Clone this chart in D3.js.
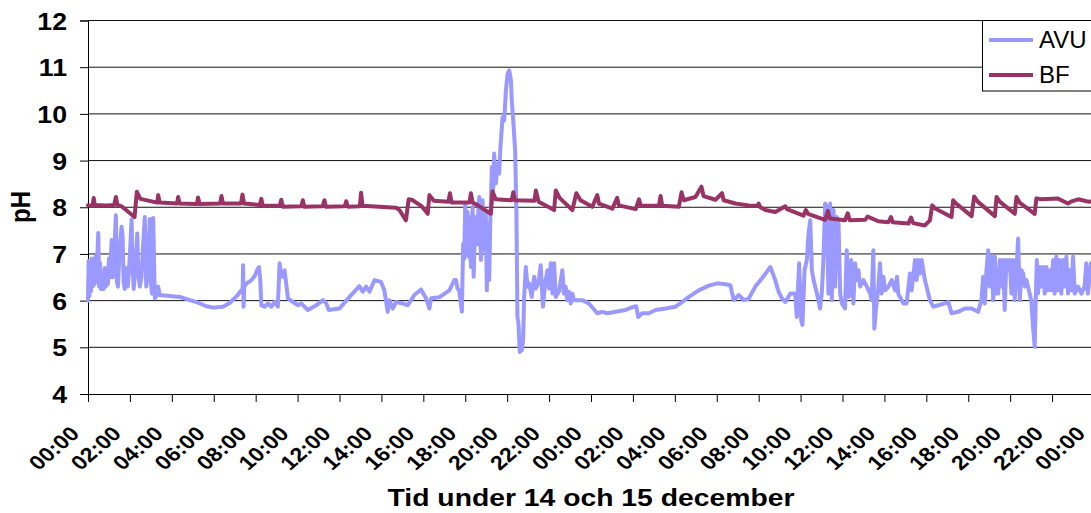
<!DOCTYPE html>
<html>
<head>
<meta charset="utf-8">
<script src="https://cdn.jsdelivr.net/npm/d3@7/dist/d3.min.js"></script>
<style>
  html, body { margin: 0; padding: 0; background: #fff; }
  svg { display: block; }
  text { font-family: "Liberation Sans", Arial, sans-serif; fill: #000; }
</style>
</head>
<body>
<svg id="chart" width="1091" height="513"></svg>
<script>
// Hours since 00:00 on 14 December, and measured pH
const avuHour = [
  0.00, 0.03, 0.07, 0.10, 0.14, 0.18, 0.22, 0.27, 0.31, 0.36, 0.40, 0.45, 0.49, 0.53, 0.58, 0.62, 0.68, 0.75, 0.80, 0.85,
  0.90, 0.95, 1.00, 1.05, 1.13, 1.18, 1.25, 1.33, 1.38, 1.43, 1.50, 1.60, 1.65, 1.70, 1.75, 1.82, 1.90, 1.95, 2.00, 2.08,
  2.12, 2.18, 2.25, 2.35, 2.40, 2.47, 2.55, 2.62, 2.71, 2.78, 2.85, 2.95, 3.00, 3.05, 3.11, 3.19, 3.27, 3.35, 3.42, 4.38,
  4.86, 5.17, 5.65, 5.97, 6.44, 6.76, 7.08, 7.32, 7.38, 7.40, 7.42, 7.46, 7.56, 7.75, 7.95, 8.10, 8.16, 8.22, 8.27, 8.43,
  8.59, 8.75, 8.90, 9.06, 9.14, 9.22, 9.30, 9.38, 9.54, 9.78, 10.02, 10.17, 10.49, 10.89, 11.21, 11.37, 11.49, 12.00, 12.48, 12.95,
  13.11, 13.27, 13.43, 13.67, 13.98, 14.14, 14.30, 14.38, 14.54, 14.70, 15.02, 15.25, 15.57, 15.89, 16.13, 16.29, 16.37, 16.76, 17.24, 17.48,
  17.56, 17.63, 17.71, 17.84, 17.90, 17.95, 18.00, 18.05, 18.11, 18.15, 18.19, 18.27, 18.35, 18.40, 18.45, 18.51, 18.55, 18.59, 18.67, 18.75,
  18.80, 18.83, 18.90, 18.94, 18.98, 19.03, 19.08, 19.11, 19.14, 19.20, 19.27, 19.33, 19.38, 19.46, 19.54, 19.62, 19.67, 19.78, 19.86, 19.94,
  20.02, 20.10, 20.18, 20.22, 20.29, 20.38, 20.44, 20.49, 20.54, 20.60, 20.70, 20.76, 20.81, 20.89, 20.97, 21.05, 21.17, 21.29, 21.37, 21.49,
  21.60, 21.71, 21.81, 21.92, 22.00, 22.08, 22.16, 22.24, 22.32, 22.48, 22.63, 22.71, 22.79, 22.87, 22.95, 23.03, 23.11, 23.19, 23.59, 23.90,
  24.30, 24.54, 24.78, 25.17, 25.65, 26.05, 26.16, 26.25, 26.44, 26.76, 27.08, 27.56, 28.03, 28.35, 28.67, 29.14, 29.62, 30.02, 30.41, 30.65,
  30.81, 31.05, 31.29, 31.52, 31.84, 32.16, 32.56, 32.79, 32.95, 33.11, 33.27, 33.51, 33.74, 33.82, 33.93, 34.03, 34.09, 34.19, 34.30, 34.38,
  34.46, 34.54, 34.62, 34.78, 34.85, 34.93, 35.01, 35.09, 35.17, 35.25, 35.33, 35.41, 35.49, 35.57, 35.65, 35.73, 35.81, 35.89, 35.97, 36.12,
  36.20, 36.30, 36.41, 36.52, 36.60, 36.68, 36.76, 36.84, 37.00, 37.16, 37.32, 37.39, 37.47, 37.52, 37.58, 37.71, 37.79, 37.87, 37.95, 38.03,
  38.19, 38.35, 38.51, 38.60, 38.66, 38.90, 39.06, 39.22, 39.30, 39.46, 39.54, 39.62, 39.70, 39.78, 39.93, 40.01, 40.17, 40.33, 40.57, 40.89,
  41.05, 41.20, 41.52, 41.84, 42.16, 42.47, 42.63, 42.71, 42.79, 42.87, 42.95, 43.03, 43.11, 43.19, 43.27, 43.35, 43.43, 43.51, 43.58, 43.66,
  43.74, 43.82, 43.90, 43.98, 44.06, 44.14, 44.22, 44.30, 44.38, 44.46, 44.54, 44.62, 44.70, 44.78, 44.93, 45.01, 45.09, 45.17, 45.22, 45.27,
  45.33, 45.41, 45.49, 45.57, 45.65, 45.73, 45.81, 45.89, 45.97, 46.05, 46.12, 46.20, 46.28, 46.36, 46.44, 46.52, 46.60, 46.68, 46.76, 46.84,
  46.92, 47.00, 47.08, 47.24, 47.40, 47.55, 47.63, 47.71, 47.85, 48.00
];
const avuPH = [
  6.00, 6.85, 6.10, 6.80, 6.20, 6.90, 6.30, 6.75, 6.35, 6.95, 6.40, 7.00, 7.45, 6.30, 6.80, 6.25, 6.50, 6.25, 6.70, 6.30,
  6.60, 6.35, 6.90, 6.50, 7.30, 6.50, 7.00, 7.83, 6.40, 6.30, 7.00, 7.58, 7.40, 6.40, 6.25, 6.70, 6.30, 6.60, 7.00, 7.74,
  6.80, 6.25, 6.60, 7.44, 6.60, 6.30, 6.50, 7.10, 7.79, 6.30, 6.60, 7.75, 6.40, 6.15, 7.77, 6.05, 6.10, 6.30, 6.12, 6.08,
  6.01, 5.97, 5.88, 5.85, 5.87, 5.95, 6.09, 6.22, 6.25, 6.76, 5.87, 6.30, 6.37, 6.42, 6.52, 6.68, 6.72, 6.45, 5.90, 5.87,
  5.94, 5.87, 5.97, 5.87, 6.80, 6.55, 6.51, 6.65, 6.05, 5.97, 5.90, 5.94, 5.80, 5.90, 6.01, 5.94, 5.80, 5.83, 6.08, 6.31,
  6.19, 6.30, 6.19, 6.44, 6.40, 6.22, 5.76, 6.01, 5.83, 5.97, 5.94, 5.90, 6.12, 6.24, 6.05, 5.83, 6.05, 6.07, 6.22, 6.44,
  6.44, 6.26, 6.22, 5.76, 7.22, 6.90, 8.08, 7.00, 7.90, 6.94, 7.79, 6.72, 8.01, 6.51, 7.30, 7.79, 7.20, 7.65, 8.22, 6.87,
  7.50, 8.15, 7.08, 7.80, 7.86, 6.22, 7.20, 7.65, 6.44, 7.79, 8.86, 8.36, 9.15, 8.51, 8.93, 8.72, 9.22, 9.93, 9.86, 10.50,
  10.86, 10.93, 10.72, 10.29, 9.86, 9.22, 7.94, 5.65, 5.51, 4.90, 4.94, 5.15, 6.08, 6.72, 6.30, 6.37, 6.08, 6.51, 6.26, 6.37,
  6.76, 5.87, 6.37, 6.65, 6.26, 6.80, 6.15, 6.80, 6.08, 6.20, 6.65, 6.15, 6.30, 6.01, 6.19, 5.94, 6.15, 6.01, 6.01, 5.94,
  5.73, 5.76, 5.73, 5.76, 5.80, 5.87, 5.88, 5.65, 5.73, 5.73, 5.80, 5.83, 5.87, 5.97, 6.08, 6.22, 6.32, 6.37, 6.35, 6.33,
  6.01, 6.12, 6.01, 6.04, 6.30, 6.48, 6.72, 6.44, 6.19, 6.05, 5.97, 6.15, 6.15, 5.65, 6.80, 5.58, 5.48, 6.65, 6.87, 7.44,
  7.72, 6.65, 6.44, 6.15, 6.01, 5.83, 6.15, 6.87, 8.08, 8.00, 6.15, 8.08, 6.01, 7.94, 6.30, 7.79, 7.65, 6.15, 5.94, 5.83,
  7.08, 6.08, 6.87, 5.94, 6.80, 6.44, 6.65, 6.30, 6.44, 6.30, 6.15, 6.01, 7.08, 5.40, 5.73, 6.30, 6.80, 6.15, 6.51, 6.22,
  6.30, 6.44, 6.22, 6.51, 6.15, 5.94, 5.94, 6.58, 6.22, 6.87, 6.44, 6.87, 6.58, 6.87, 6.44, 6.30, 6.01, 5.87, 5.90, 5.94,
  5.97, 5.73, 5.76, 5.83, 5.83, 5.76, 6.01, 6.51, 5.94, 6.65, 7.08, 6.30, 6.94, 6.01, 6.94, 6.15, 6.15, 6.87, 6.30, 6.87,
  5.80, 6.87, 6.65, 6.87, 6.15, 6.87, 6.01, 6.65, 7.33, 6.01, 6.65, 6.58, 6.30, 6.44, 6.15, 6.01, 5.44, 5.01, 6.01, 6.87,
  6.15, 6.72, 6.30, 6.72, 6.15, 6.72, 6.22, 6.65, 6.22, 6.87, 6.15, 6.94, 6.22, 6.87, 6.15, 6.87, 6.30, 6.94, 6.15, 6.65,
  6.22, 6.94, 6.15, 6.30, 6.15, 6.30, 6.80, 6.15, 6.80, 6.20
];

const bfHour = [
  0.00, 0.22, 0.27, 0.32, 0.90, 1.25, 1.33, 1.40, 1.60, 2.22, 2.33, 2.50, 3.30, 3.35, 3.42, 4.25, 4.30, 4.37, 5.20, 5.25,
  5.32, 6.30, 6.37, 6.44, 7.30, 7.37, 7.45, 8.20, 8.27, 8.34, 9.15, 9.22, 9.30, 10.18, 10.25, 10.32, 11.20, 11.28, 11.35, 12.25,
  12.32, 12.40, 12.97, 13.03, 13.10, 14.70, 14.86, 15.17, 15.30, 15.45, 15.90, 16.21, 16.29, 16.50, 17.20, 17.27, 17.35, 18.20, 18.27, 18.35,
  18.60, 19.22, 19.30, 19.45, 20.22, 20.29, 20.38, 21.30, 21.37, 21.50, 22.00, 22.24, 22.32, 22.50, 23.11, 23.30, 23.50, 24.06, 24.30, 24.38,
  25.02, 25.25, 25.33, 26.13, 26.29, 26.37, 27.24, 27.32, 27.40, 28.19, 28.32, 28.43, 28.98, 29.27, 29.37, 29.94, 30.25, 30.33, 30.89, 31.52,
  31.95, 32.00, 32.08, 32.32, 32.79, 33.27, 33.35, 34.14, 34.25, 34.35, 35.17, 35.30, 35.40, 36.12, 36.25, 36.35, 37.08, 37.20, 37.71, 38.19,
  38.31, 38.40, 39.14, 39.27, 39.37, 39.93, 40.17, 40.28, 40.40, 41.20, 41.28, 41.42, 42.16, 42.28, 42.45, 43.27, 43.35, 43.50, 44.22, 44.30,
  44.45, 45.17, 45.25, 45.50, 46.28, 46.44, 46.76, 46.90, 47.24, 47.55, 47.71, 48.00
];
const bfPH = [
  8.04, 8.03, 8.20, 8.05, 8.04, 8.05, 8.22, 8.05, 8.02, 7.79, 8.33, 8.18, 8.10, 8.26, 8.10, 8.08, 8.22, 8.08, 8.07, 8.21,
  8.07, 8.08, 8.24, 8.08, 8.08, 8.27, 8.08, 8.05, 8.18, 8.03, 8.03, 8.16, 8.01, 8.02, 8.15, 8.01, 8.02, 8.15, 8.01, 8.02,
  8.13, 8.01, 8.02, 8.31, 8.03, 7.99, 7.94, 7.72, 8.17, 8.16, 8.03, 7.86, 8.26, 8.14, 8.12, 8.30, 8.10, 8.10, 8.30, 8.10,
  8.04, 7.86, 8.34, 8.17, 8.15, 8.32, 8.15, 8.14, 8.36, 8.12, 8.00, 7.94, 8.36, 8.20, 7.94, 8.30, 8.15, 8.01, 8.26, 8.08,
  7.97, 8.20, 8.04, 7.96, 8.17, 8.04, 8.03, 8.24, 8.03, 8.01, 8.32, 8.15, 8.22, 8.44, 8.24, 8.16, 8.30, 8.15, 8.08, 8.04,
  8.03, 8.08, 8.00, 7.94, 7.90, 8.02, 7.96, 7.82, 7.94, 7.86, 7.73, 7.92, 7.76, 7.72, 7.87, 7.72, 7.73, 7.80, 7.70, 7.68,
  7.79, 7.68, 7.65, 7.78, 7.66, 7.61, 7.72, 8.04, 7.98, 7.79, 8.15, 8.08, 7.81, 8.23, 8.12, 7.81, 8.22, 8.12, 7.86, 8.22,
  8.10, 7.86, 8.19, 8.17, 8.19, 8.15, 8.08, 8.12, 8.17, 8.14, 8.12, 8.13
];

const yTicks = [4, 5, 6, 7, 8, 9, 10, 11, 12];
const xTickHours = d3.range(0, 49, 2);
const xTickLabels = [
  "00:00", "02:00", "04:00", "06:00", "08:00", "10:00", "12:00", "14:00", "16:00", "18:00", "20:00", "22:00",
  "00:00", "02:00", "04:00", "06:00", "08:00", "10:00", "12:00", "14:00", "16:00", "18:00", "20:00", "22:00", "00:00"
];
const seriesNames = ["AVU", "BF"];
const seriesColors = ["#9999ff", "#993366"];

const svg = d3.select("#chart");
const plotLeft = 88, plotRight = 1094, plotTop = 20.5, plotBottom = 394;
const stretchX = 1.16; // horizontal text stretch

const x = d3.scaleLinear().domain([0, 48]).range([plotLeft, plotRight]);
const y = d3.scaleLinear().domain([4, 12]).range([plotBottom, plotTop]);

// horizontal gridlines
svg.append("g").selectAll("line").data(yTicks.filter(v => v > 4)).join("line")
  .attr("x1", plotLeft).attr("x2", plotRight)
  .attr("y1", d => y(d)).attr("y2", d => y(d))
  .attr("stroke", "#111").attr("stroke-width", 1);

// y axis
const yAxis = svg.append("g").attr("transform", `translate(${plotLeft},0)`)
  .call(d3.axisLeft(y).tickValues(yTicks).tickSize(8).tickFormat(d3.format("d")));
yAxis.select(".domain").attr("stroke", "#000");
yAxis.selectAll(".tick line").attr("stroke", "#000");
yAxis.selectAll(".tick text")
  .attr("x", null).attr("dy", null)
  .attr("text-anchor", "end")
  .style("font-family", "'Liberation Sans', Arial, sans-serif")
  .style("font-size", "23px").style("font-weight", "bold")
  .attr("transform", `translate(-21,8.5) scale(${stretchX},1)`);

// x axis
const xAxis = svg.append("g").attr("transform", `translate(0,${plotBottom})`)
  .call(d3.axisBottom(x).tickValues(xTickHours).tickSize(8).tickFormat((d, i) => xTickLabels[i]));
xAxis.select(".domain").attr("stroke", "#000");
xAxis.selectAll(".tick line").attr("stroke", "#000");
xAxis.selectAll(".tick text")
  .attr("y", null).attr("dy", null)
  .attr("text-anchor", "end")
  .style("font-family", "'Liberation Sans', Arial, sans-serif")
  .style("font-size", "20px").style("font-weight", "bold")
  .attr("transform", `translate(-8,41) scale(${stretchX},1) rotate(-45)`);

// series lines
const line = d3.line().x(d => x(d[0])).y(d => y(d[1]));
const avu = d3.zip(avuHour, avuPH);
const bf = d3.zip(bfHour, bfPH);
[avu, bf].forEach((data, i) => {
  svg.append("path").datum(data)
    .attr("d", line)
    .attr("fill", "none")
    .attr("stroke", seriesColors[i])
    .attr("stroke-width", 4)
    .attr("stroke-linejoin", "round")
    .attr("stroke-linecap", "round");
});

// axis titles
svg.append("text")
  .attr("transform", `translate(${(plotLeft + plotRight) / 2},506) scale(1.18,1)`)
  .attr("text-anchor", "middle")
  .style("font-size", "24px").style("font-weight", "bold")
  .text("Tid under 14 och 15 december");

svg.append("text")
  .attr("transform", `translate(30,207) scale(${stretchX},1) rotate(-90)`)
  .attr("text-anchor", "middle")
  .style("font-size", "24px").style("font-weight", "bold")
  .text("pH");

// legend
const lg = svg.append("g");
lg.append("rect").attr("x", 982.5).attr("y", 20.5).attr("width", 130).attr("height", 70.5)
  .attr("fill", "#fff").attr("stroke", "#000").attr("stroke-width", 1);
seriesNames.forEach((name, i) => {
  const ly = 40 + i * 35;
  lg.append("line").attr("x1", 989).attr("x2", 1033).attr("y1", ly).attr("y2", ly)
    .attr("stroke", seriesColors[i]).attr("stroke-width", 4);
  lg.append("text").attr("x", 1039).attr("y", ly + 8)
    .style("font-size", "24px")
    .text(name);
});
</script>
</body>
</html>
